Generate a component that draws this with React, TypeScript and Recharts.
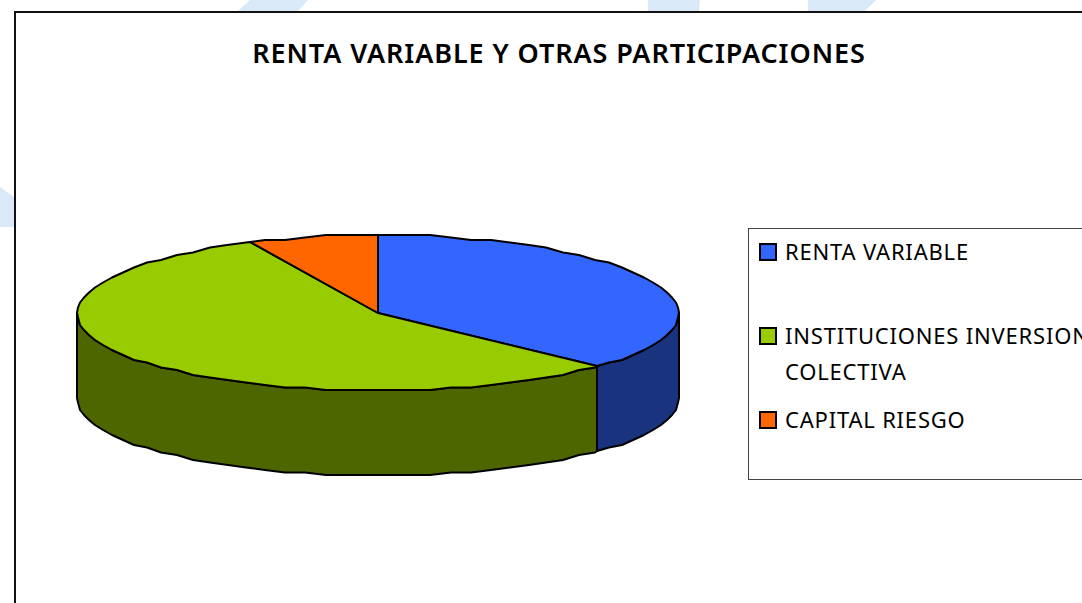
import React from "react";
import { PieChart, Pie, Legend } from "recharts";

const categories = ["RENTA VARIABLE", "INSTITUCIONES INVERSION COLECTIVA", "CAPITAL RIESGO"];
const values = [37, 56, 7];
const topColors = ["#3366FF", "#99CC00", "#FF6600"];
const wallColors = ["#1A337F", "#4D6600", "#7F3300"];

const topData = categories.map((name, i) => ({ name, value: values[i], fill: topColors[i] }));
const wallData = categories.map((name, i) => ({ name, value: values[i], fill: wallColors[i] }));

const SQUASH = 78 / 301;
const DEPTH = 85;
const STEP = 4;

const pt = (cx: number, cy: number, r: number, deg: number, exact = false) => {
  const a = (deg * Math.PI) / 180;
  const x = cx + r * Math.cos(a);
  const y = cy - r * SQUASH * Math.sin(a);
  if (exact) return [Math.round(x), Math.round(y)];
  return [Math.round(x), Math.round(y / 2.5) * 2.5];
};

const arc = (cx: number, cy: number, r: number, start: number, end: number) => {
  const out = [pt(cx, cy, r, start, true)];
  for (let d = Math.floor(start / STEP) * STEP; d > end; d -= STEP) {
    if (d < start) out.push(pt(cx, cy, r, d));
  }
  out.push(pt(cx, cy, r, end, true));
  return out;
};

const toPath = (pts: number[][]) => pts.map((p, i) => `${i ? "L" : "M"}${p[0]},${p[1]}`).join(" ") + " Z";

const TopSlice = (p: any) => {
  const rim = arc(p.cx, p.cy, p.outerRadius, p.startAngle, p.endAngle);
  return <path d={toPath([[p.cx, p.cy], ...rim])} fill={p.fill} stroke="#000" strokeWidth={2} strokeLinejoin="round" />;
};

const WallSlice = (p: any) => {
  const s = Math.min(p.startAngle, 0);
  const e = Math.max(p.endAngle, -180);
  if (s <= e) return <g />;
  const upper = arc(p.cx, p.cy, p.outerRadius, s, e);
  const lower = upper.map(([x, y]) => [x, y + DEPTH]).reverse();
  return <path d={toPath([...upper, ...lower])} fill={p.fill} stroke="#000" strokeWidth={2} strokeLinejoin="round" />;
};

const legendFont = '"Noto Sans", sans-serif';

const LegendBox = ({ payload }: any) => {
  const tops = [4, 88, 172];
  const items = categories.map((name) =>
    (payload || []).find((it: any) => it.value === name && topColors.includes(it.payload?.fill ?? it.color))
  );
  return (
    <div style={{ position: "relative", width: 340, height: 252, background: "#fff", border: "1px solid #444", boxSizing: "border-box", overflow: "hidden" }}>
      {items.map((it: any, i: number) =>
        it ? (
          <div key={it.value} style={{ position: "absolute", left: 10, top: tops[i], width: 360, display: "flex", fontFamily: legendFont, fontSize: 22, lineHeight: "36px", color: "#000", letterSpacing: 0.8 }}>
            <span style={{ width: 18, height: 18, flex: "none", marginTop: 10, marginRight: 8, border: "2px solid #000", boxSizing: "border-box", background: it.payload?.fill ?? it.color }} />
            <span style={{ width: 330 }}>{it.value}</span>
          </div>
        ) : null
      )}
    </div>
  );
};

export default function App() {
  return (
    <div style={{ position: "absolute", left: 0, top: 0, width: 1082, height: 603, overflow: "hidden", background: "#fff" }}>
      <svg width={1082} height={603} style={{ position: "absolute", left: 0, top: 0 }}>
        <polygon points="250,0 308,0 298,11 238,11" fill="#D9E9F8" />
        <polygon points="648,0 700,0 699,11 648,11" fill="#D9E9F8" />
        <polygon points="808,0 876,0 865,11 808,11" fill="#D9E9F8" />
        <polygon points="0,187 14,197 14,227 0,227" fill="#D9E9F8" />
      </svg>
      <div style={{ position: "absolute", left: 14, top: 11, width: 1100, height: 620, background: "#fff", borderLeft: "2px solid #111", borderTop: "2px solid #111", boxSizing: "border-box" }} />
      <div style={{ position: "absolute", left: 0, top: 0 }}>
        <PieChart width={1082} height={603} margin={{ top: 0, right: 0, bottom: 0, left: 0 }}>
          <text x={559} y={63} textAnchor="middle" fontFamily='"Noto Sans", sans-serif' fontSize={27} fontWeight={600} letterSpacing={0.9} fill="#000">
            RENTA VARIABLE Y OTRAS PARTICIPACIONES
          </text>
          <Pie data={wallData} dataKey="value" nameKey="name" cx={378} cy={313} innerRadius={0} outerRadius={301} startAngle={90} endAngle={-270} paddingAngle={0} legendType="none" shape={WallSlice} isAnimationActive={false} />
          <Pie data={topData} dataKey="value" nameKey="name" cx={378} cy={313} innerRadius={0} outerRadius={301} startAngle={90} endAngle={-270} paddingAngle={0} shape={TopSlice} isAnimationActive={false} />
          <Legend layout="vertical" content={<LegendBox />} wrapperStyle={{ position: "absolute", left: 748, top: 228, width: 340, height: 252 }} />
        </PieChart>
      </div>
    </div>
  );
}
